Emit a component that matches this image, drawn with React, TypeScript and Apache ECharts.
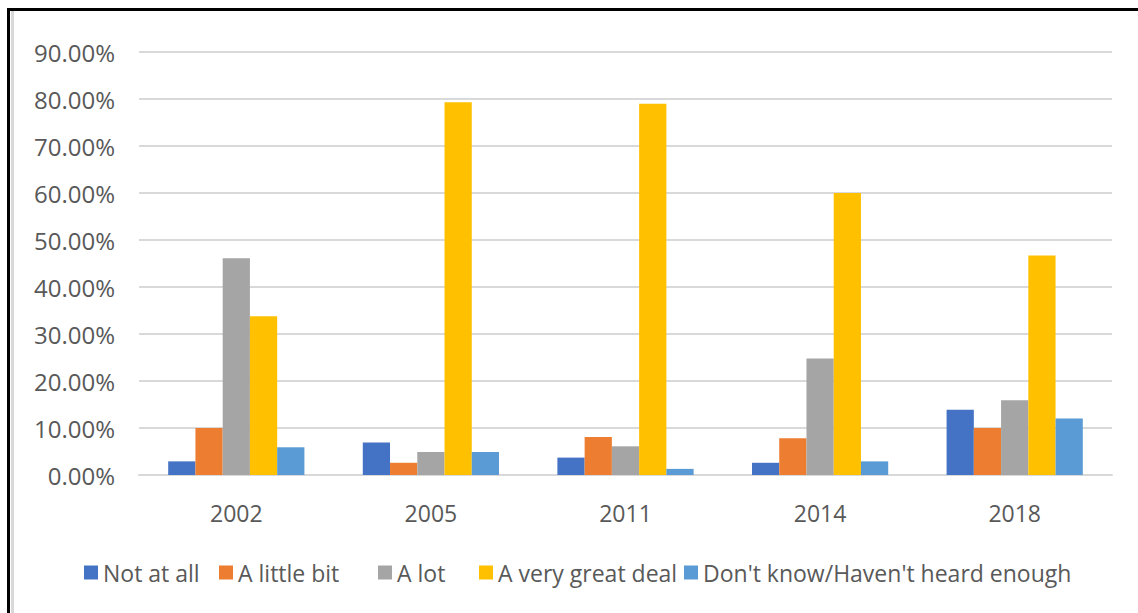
import React, { useEffect, useRef } from "react";
import * as echarts from "echarts";

const categories = ["2002", "2005", "2011", "2014", "2018"];
const seriesNames = ["Not at all", "A little bit", "A lot", "A very great deal", "Don't know/Haven't heard enough"];
const notAtAll = [2.9, 6.9, 3.7, 2.6, 13.9];
const aLittleBit = [10.0, 2.6, 8.1, 7.8, 10.0];
const aLot = [46.1, 4.9, 6.1, 24.8, 15.9];
const aVeryGreatDeal = [33.8, 79.3, 79.0, 60.0, 46.7];
const dontKnow = [5.9, 4.9, 1.3, 2.9, 12.0];
const seriesValues = [notAtAll, aLittleBit, aLot, aVeryGreatDeal, dontKnow];
const colors = ["#4472C4", "#ED7D31", "#A5A5A5", "#FFC000", "#5B9BD5"];
const legendLefts = [84, 219, 378, 479, 684];

export default function App() {
  const ref = useRef<HTMLDivElement>(null);
  useEffect(() => {
    if (!ref.current) return;
    const chart = echarts.init(ref.current, undefined, { renderer: "svg" });
    const font = "'Open Sans', 'DejaVu Sans', sans-serif";
    chart.setOption({
      animation: false,
      backgroundColor: "#ffffff",
      color: colors,
      textStyle: { fontFamily: font },
      graphic: [
        { type: "rect", shape: { x: 7, y: 8, width: 1131, height: 3 }, style: { fill: "#000" } },
        { type: "rect", shape: { x: 7, y: 8, width: 3, height: 605 }, style: { fill: "#000" } },
        { type: "rect", shape: { x: 11, y: 11, width: 3, height: 602 }, style: { fill: "#d9d9d9" } },
      ],
      grid: { left: 139, right: 26, top: 52, bottom: 138, containLabel: false },
      legend: seriesNames.map((name, i) => ({
        data: [name],
        bottom: 29,
        left: legendLefts[i],
        padding: 0,
        icon: "rect",
        itemWidth: 14,
        itemHeight: 14,
        textStyle: { color: "#595959", fontSize: 23, fontFamily: font },
      })),
      xAxis: {
        type: "category",
        data: categories,
        axisLine: { show: true, lineStyle: { color: "#d9d9d9", width: 2 } },
        axisTick: { show: false },
        axisLabel: { color: "#595959", fontSize: 23, margin: 26, fontFamily: font },
      },
      yAxis: {
        type: "value",
        min: 0,
        max: 90,
        interval: 10,
        axisLine: { show: false },
        axisTick: { show: false },
        splitLine: { lineStyle: { color: "#d9d9d9", width: 2 } },
        axisLabel: {
          color: "#595959",
          fontSize: 24,
          margin: 24,
          fontFamily: font,
          formatter: (v: number) => v.toFixed(2) + "%",
        },
      },
      series: seriesNames.map((name, i) => ({
        name,
        type: "bar",
        data: seriesValues[i],
        barGap: "0%",
        barCategoryGap: "30%",
        itemStyle: { color: colors[i] },
      })),
    });
    return () => chart.dispose();
  }, []);
  return (
    <div
      ref={ref}
      style={{ position: "absolute", left: 0, top: 0, width: 1138, height: 613 }}
    />
  );
}
